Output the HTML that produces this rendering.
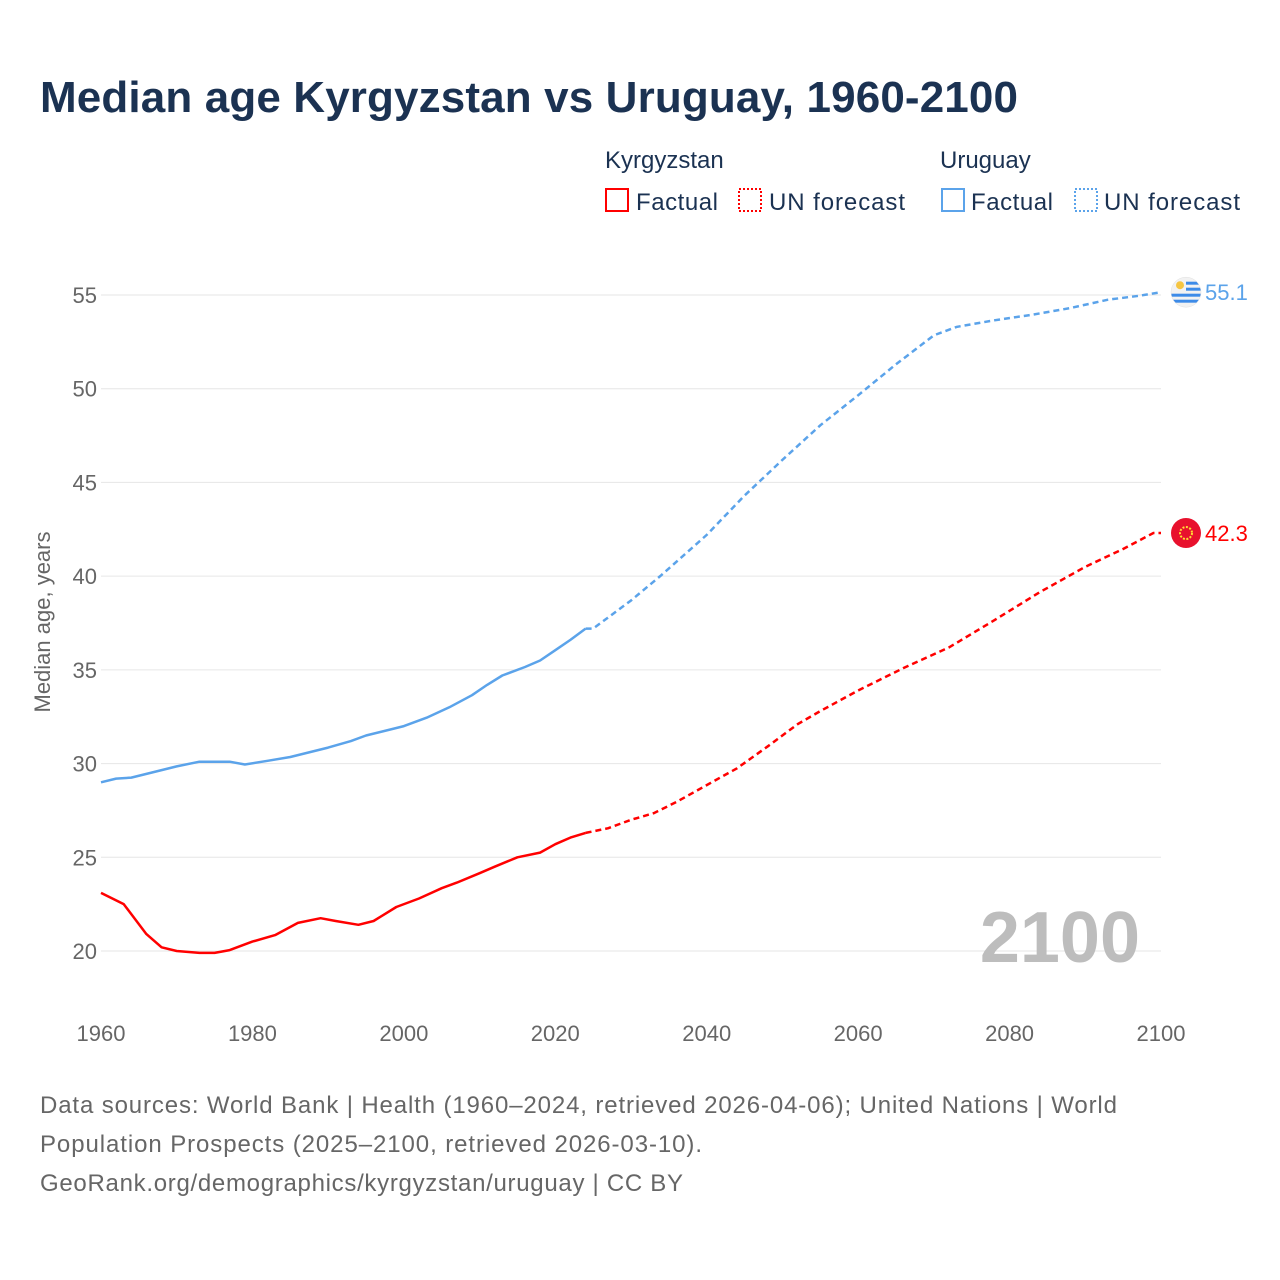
<!DOCTYPE html>
<html><head><meta charset="utf-8"><style>
body{margin:0;background:#fff;font-family:"Liberation Sans",sans-serif}
#wrap{position:relative;width:1280px;height:1280px;overflow:hidden}
svg text{font-family:"Liberation Sans",sans-serif}
</style></head><body><div id="wrap">
<svg id="chart" width="1280" height="1280">
<defs><clipPath id="uyclip"><circle id="uyc" cx="1186" cy="292" r="15"/></clipPath></defs>
<text x="40" y="112" font-size="44" font-weight="bold" fill="#1b3252" textLength="978">Median age Kyrgyzstan vs Uruguay, 1960-2100</text>
<g font-size="24" fill="#1b3252">
<text x="605" y="168">Kyrgyzstan</text>
<text x="940" y="168">Uruguay</text>
<rect x="606" y="189" width="22" height="22" fill="none" stroke="#f00" stroke-width="2"/>
<text x="636" y="210" textLength="82">Factual</text>
<rect x="739" y="189" width="22" height="22" fill="none" stroke="#f00" stroke-width="2" stroke-dasharray="2,2"/>
<text x="769" y="210" textLength="136">UN forecast</text>
<rect x="942" y="189" width="22" height="22" fill="none" stroke="#5ba3ea" stroke-width="2"/>
<text x="971" y="210" textLength="82">Factual</text>
<rect x="1075" y="189" width="22" height="22" fill="none" stroke="#5ba3ea" stroke-width="2" stroke-dasharray="2,2"/>
<text x="1104" y="210" textLength="136">UN forecast</text>
</g>
<g id="grid"></g><g id="series"></g>
<text x="1140" y="962" text-anchor="end" font-size="72" font-weight="bold" fill="#bdbdbd">2100</text>
<text transform="translate(50,622) rotate(-90)" text-anchor="middle" font-size="22" fill="#666">Median age, years</text>
<g font-size="24" fill="#666">
<text x="40" y="1113" textLength="1077">Data sources: World Bank | Health (1960–2024, retrieved 2026-04-06); United Nations | World</text>
<text x="40" y="1152" textLength="662">Population Prospects (2025–2100, retrieved 2026-03-10).</text>
<text x="40" y="1191" textLength="643">GeoRank.org/demographics/kyrgyzstan/uruguay | CC BY</text>
</g>
</svg></div>
<script>
const yTicks=[20,25,30,35,40,45,50,55];
const xTicks=[1960,1980,2000,2020,2040,2060,2080,2100];
const kgYears=[1960,1963,1966,1968,1970,1973,1975,1977,1980,1983,1986,1989,1991,1994,1996,1999,2002,2005,2007,2010,2012,2015,2018,2020,2022,2024,2027,2030,2033,2036,2040,2044,2048,2052,2055,2060,2066,2072,2078,2084,2090,2095,2099,2100];
const kgValues=[23.1,22.5,20.9,20.2,20.0,19.9,19.9,20.05,20.5,20.85,21.5,21.75,21.6,21.4,21.6,22.35,22.8,23.35,23.65,24.15,24.5,25.0,25.25,25.7,26.05,26.3,26.55,27.0,27.35,27.95,28.85,29.75,30.9,32.1,32.8,33.9,35.1,36.2,37.65,39.15,40.5,41.45,42.3,42.3];
const uyYears=[1960,1962,1964,1968,1970,1973,1977,1979,1982,1985,1990,1993,1995,2000,2003,2006,2009,2011,2013,2016,2018,2020,2022,2024,2025,2030,2034,2040,2045,2050,2055,2060,2065,2070,2073,2078,2083,2088,2093,2097,2100];
const uyValues=[29.0,29.2,29.25,29.65,29.85,30.1,30.1,29.95,30.15,30.35,30.85,31.2,31.5,32.0,32.45,33.0,33.65,34.2,34.7,35.15,35.5,36.05,36.6,37.2,37.2,38.7,40.05,42.2,44.3,46.2,48.05,49.65,51.3,52.85,53.3,53.65,53.95,54.3,54.75,54.95,55.15];
const lastFactual=2024;
const X=y=>101+(y-1960)*(1060/140);
const Y=v=>951-(v-20)*(656/35);
const NS='http://www.w3.org/2000/svg';
const grid=document.getElementById('grid'),ser=document.getElementById('series');
function mk(tag,attrs,parent){const e=document.createElementNS(NS,tag);for(const k in attrs)e.setAttribute(k,attrs[k]);parent.appendChild(e);return e;}
yTicks.forEach(t=>{
 const l=mk('line',{x1:101,x2:1161,y1:Y(t),y2:Y(t),stroke:'#e6e6e6','stroke-width':1},grid);
 
 
 const tx=mk('text',{x:97,y:Y(t)+8,'text-anchor':'end','font-size':22,fill:'#666'},grid);tx.textContent=t;
 
 
});
xTicks.forEach(t=>{
 const tx=mk('text',{x:X(t),y:1041,'text-anchor':'middle','font-size':22,fill:'#666'},grid);tx.textContent=t;
 
 
});
function draw(years,vals,color,name){
 const f=[],p=[];
 years.forEach((y,i)=>{const pt=X(y).toFixed(1)+','+Y(vals[i]).toFixed(1);if(y<=lastFactual)f.push(pt);if(y>=lastFactual)p.push(pt);});
 const a=mk('polyline',{points:f.join(' '),fill:'none',stroke:color,'stroke-width':2.5,'stroke-linejoin':'round'},ser);
 
 
 const b=mk('polyline',{points:p.join(' '),fill:'none',stroke:color,'stroke-width':2.5,'stroke-dasharray':'6,4'},ser);
 
 
 const lv=vals[vals.length-1],cy=Y(lv);
 const lbl=mk('text',{x:1205,y:cy+8,'font-size':22,fill:color},ser);lbl.textContent=lv.toFixed(1);
 
 
 return cy;
}
const ky=draw(kgYears,kgValues,'#ff0000','kyrgyzstan');
const uy=draw(uyYears,uyValues,'#5ba3ea','uruguay');
document.getElementById('uyc').setAttribute('cy',uy);
const kf=mk('circle',{cx:1186,cy:ky,r:15,fill:'#e8112d'},ser);


const ks=mk('circle',{cx:1186,cy:ky,r:6,fill:'none',stroke:'#ffdd33','stroke-width':2,'stroke-dasharray':'2,1.5'},ser);


const ug=mk('g',{'clip-path':'url(#uyclip)'},ser);


mk('circle',{cx:1186,cy:uy,r:15,fill:'#f2f2f2'},ug);
[-9,-3,3,9].forEach((d,i)=>{const r=mk('rect',{x:i<2?1186:1170,y:uy+d-1.5,width:i<2?16:32,height:3,fill:'#3d8be8'},ug);
 
 });
const us=mk('circle',{cx:1180,cy:uy-7,r:4,fill:'#f5c542'},ug);


const uo=mk('circle',{cx:1186,cy:uy,r:15,fill:'none',stroke:'#e0e0e0','stroke-width':0.5},ser);


</script></body></html>
